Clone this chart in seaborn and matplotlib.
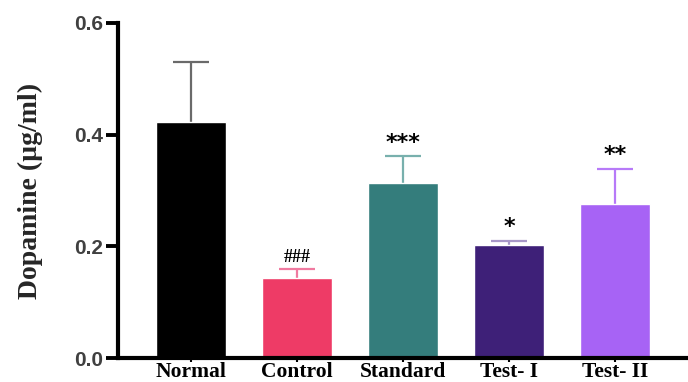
import matplotlib
matplotlib.use("Agg")
import matplotlib.pyplot as plt
import seaborn as sns
import pandas as pd

# Values
groups = ["Normal", "Control", "Standard", "Test- I", "Test- II"]
dopamine = [0.422, 0.143, 0.314, 0.202, 0.276]
sd = [0.108, 0.016, 0.048, 0.008, 0.063]
marks = ["", "###", "***", "*", "**"]

bar_colors = ["#000000", "#ee3b66", "#347d7c", "#3e2078", "#a763f5"]
err_colors = ["#6a6a6a", "#f07aa0", "#78b0ad", "#a898c8", "#b77af8"]

df = pd.DataFrame({"group": groups, "dopamine": dopamine})

sns.set_style("ticks")
plt.rcParams["font.family"] = ["Liberation Serif", "DejaVu Serif"]

fig = plt.figure(figsize=(6.88, 3.82), dpi=100)
ax = fig.add_axes([0.1715, 0.0628, 0.8285, 0.877])

sns.barplot(data=df, x="group", y="dopamine", hue="group", palette=bar_colors,
            legend=False, width=0.66, saturation=1, ax=ax, errorbar=None, zorder=2)

# error bars sit behind the bars so only the upper half shows
for i, (v, e) in enumerate(zip(dopamine, sd)):
    ax.errorbar(i, v, yerr=e, fmt="none", ecolor=err_colors[i],
                elinewidth=1.6, capsize=13, capthick=1.6, zorder=1)
    if marks[i]:
        is_hash = marks[i].startswith("#")
        ax.text(i, v + e + 0.006, marks[i], ha="center", va="bottom",
                fontsize=13 if is_hash else 16, fontweight="bold",
                family=["Liberation Serif"] if is_hash else ["DejaVu Sans"],
                color="black")

ax.set_ylim(0, 0.6)
ax.set_xlim(-0.69, 4.69)
ax.set_yticks([0.0, 0.2, 0.4, 0.6])
ax.set_yticklabels(["0.0", "0.2", "0.4", "0.6"])
ax.set_xlabel("")
ax.set_ylabel("Dopamine (µg/ml)", fontsize=20, fontweight="bold", labelpad=22)

for lab in ax.get_yticklabels():
    lab.set_family(["Liberation Sans", "DejaVu Sans"])
    lab.set_fontweight("bold")
    lab.set_fontsize(15)
    lab.set_color("#404040")
for lab in ax.get_xticklabels():
    lab.set_fontweight("bold")
    lab.set_fontsize(15.5)
    lab.set_color("black")

ax.tick_params(axis="y", length=9, width=2.8, pad=2, color="black")
ax.tick_params(axis="x", length=3, width=1.5, pad=0, color="black")
for side in ["left", "bottom"]:
    ax.spines[side].set_linewidth(3)
    ax.spines[side].set_color("black")
sns.despine(ax=ax)

fig.savefig("out.png", dpi=100)
